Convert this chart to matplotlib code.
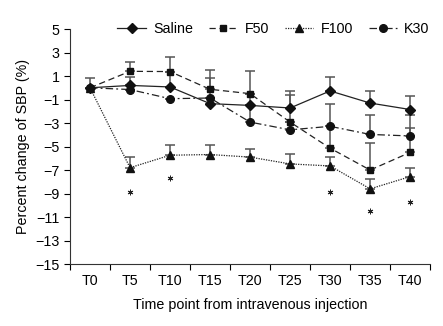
import numpy as np
import matplotlib
matplotlib.use('Agg')
import matplotlib.pyplot as plt

# values (percent change of SBP)
time_labels = ['T0', 'T5', 'T10', 'T15', 'T20', 'T25', 'T30', 'T35', 'T40']

saline = [0, 0.2, 0.07, -1.35, -1.5, -1.72, -0.27, -1.3, -1.85]
saline_top = [0.84, 0.92, 1.35, 0.79, -0.5, -0.27, 0.92, -0.27, -0.73]

f50 = [0, 1.4, 1.38, -0.13, -0.5, -2.92, -5.14, -7.0, -5.5]
f50_top = [0, 2.2, 2.63, 1.5, 1.41, -0.58, -3.26, -4.7, -2.3]

f100 = [0, -6.8, -5.74, -5.68, -5.9, -6.48, -6.65, -8.6, -7.56]
f100_top = [0, -5.9, -4.88, -4.83, -5.17, -5.62, -5.85, -7.75, -6.8]

k30 = [0, -0.15, -0.93, -0.87, -2.92, -3.58, -3.28, -3.97, -4.1]
k30_top = [0, -0.15, -0.93, -0.87, -1.5, -2.92, -1.35, -2.35, -3.4]

# significance marks (below F100)
star_idx = [1, 2, 6, 7, 8]
star_y = [-8.85, -7.66, -8.9, -10.5, -9.7]

plt.rcParams['font.family'] = ['Liberation Sans', 'DejaVu Sans']
plt.rcParams['font.size'] = 10.3

fig = plt.figure(figsize=(4.43, 3.26), dpi=100)
ax = fig.add_axes([0.158, 0.19, 0.813, 0.721])

x = np.arange(len(time_labels))
series = [
    ('Saline', saline, saline_top, '-', 'D', 5),
    ('F50', f50, f50_top, (0, (5, 3)), 's', 5),
    ('F100', f100, f100_top, (0, (1, 1)), '^', 6),
    ('K30', k30, k30_top, (0, (6, 2.5, 1.5, 2.5)), 'o', 5.5),
]

for name, vals, top, ls, mk, ms in series:
    vals = np.array(vals)
    err = np.array(top) - vals
    ax.errorbar(x, vals, yerr=[np.zeros_like(err), err], fmt='none',
                ecolor='#555555', elinewidth=1.1, capsize=3.5, capthick=1.1, zorder=2)
    ax.plot(x, vals, linestyle=ls, color='#222222', linewidth=0.9,
            marker=mk, markersize=ms, markerfacecolor='#111111',
            markeredgecolor='#111111', label=name, zorder=3)

ax.plot(star_idx, star_y, linestyle='none', marker=(6, 2, 0), markersize=4,
        markeredgewidth=0.7, color='#222222')

ax.set_xlim(-0.5, 8.5)
ax.set_ylim(-15, 5)
ax.set_yticks(np.arange(5, -16, -2))
ax.set_xticks(np.arange(-0.5, 9, 1))
ax.set_xticklabels([])
ax.set_xticks(x, minor=True)
ax.set_xticklabels(time_labels, minor=True)
ax.tick_params(axis='x', which='major', direction='out', length=4, width=0.8)
ax.tick_params(axis='x', which='minor', length=0, pad=7)
ax.tick_params(axis='y', direction='out', length=4, width=0.8)

for s in ['top', 'right']:
    ax.spines[s].set_visible(False)
for s in ['left', 'bottom']:
    ax.spines[s].set_linewidth(0.8)
    ax.spines[s].set_color('#333333')

ax.set_xlabel('Time point from intravenous injection', labelpad=7)
ax.set_ylabel('Percent change of SBP (%)', labelpad=4)

ax.legend(loc='center', bbox_to_anchor=(0.565, 1.0), ncol=4, frameon=False,
          handlelength=2.0, handletextpad=0.5, columnspacing=1.1,
          borderaxespad=0, fontsize=10.3)

fig.savefig('out.png', dpi=100)
